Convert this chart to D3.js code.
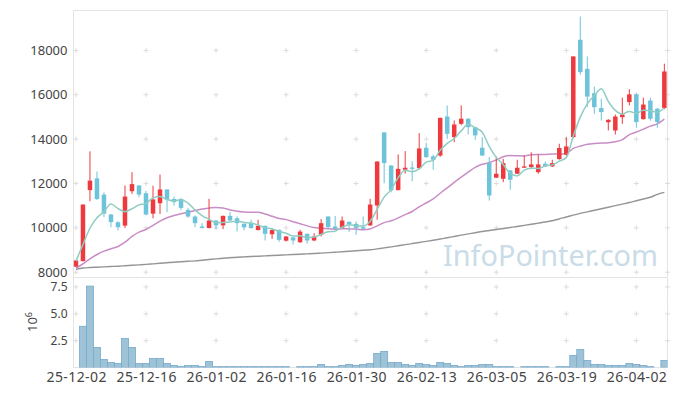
<!DOCTYPE html>
<html>
<head>
<meta charset="utf-8">
<script src="https://cdn.jsdelivr.net/npm/d3@7"></script>
<style>
  body { margin: 0; background: #fff; }
  text { font-family: "Noto Sans", sans-serif; }
</style>
</head>
<body>
<svg id="chart" width="677" height="396"></svg>
<script>
// Daily candles 25-12-02 .. 26-04-08 with MA5 / MA20 / long MA and volume (x10^6)
const dates = [
  "25-12-02","25-12-03","25-12-04","25-12-05","25-12-08","25-12-09","25-12-10","25-12-11","25-12-12","25-12-15",
  "25-12-16","25-12-17","25-12-18","25-12-19","25-12-22","25-12-23","25-12-24","25-12-26","25-12-29","25-12-30",
  "26-01-02","26-01-05","26-01-06","26-01-07","26-01-08","26-01-09","26-01-12","26-01-13","26-01-14","26-01-15",
  "26-01-16","26-01-19","26-01-20","26-01-21","26-01-22","26-01-23","26-01-26","26-01-27","26-01-28","26-01-29",
  "26-01-30","26-02-02","26-02-03","26-02-04","26-02-05","26-02-06","26-02-09","26-02-10","26-02-11","26-02-12",
  "26-02-13","26-02-19","26-02-20","26-02-23","26-02-24","26-02-25","26-02-26","26-02-27","26-03-03","26-03-04",
  "26-03-05","26-03-06","26-03-09","26-03-10","26-03-11","26-03-12","26-03-13","26-03-16","26-03-17","26-03-18",
  "26-03-19","26-03-20","26-03-23","26-03-24","26-03-25","26-03-26","26-03-27","26-03-30","26-03-31","26-04-01",
  "26-04-02","26-04-03","26-04-06","26-04-07","26-04-08"
];

const opens = [
  8250, 8500, 11700, 12230, 11500, 10600, 10250, 10100, 11650, 11910,
  11560, 10640, 11110, 11730, 11300, 11300, 10810, 10510, 10060, 9990,
  10330, 10110, 10540, 10430, 10180, 10210, 9900, 10090, 9710, 9910,
  9420, 9570, 9350, 9730, 9430, 9690, 10510, 10060, 10000, 10270,
  10180, 10030, 10110, 11010, 14300, 12810, 11700, 12620, 12720, 12690,
  13610, 13220, 13260, 15020, 14090, 14690, 14920, 14540, 13610, 12920,
  12260, 12210, 12590, 12440, 12710, 12740, 12510, 12890, 12770, 13100,
  13300, 14090, 18480, 17170, 16070, 15400, 14760, 14390, 14990, 15670,
  16020, 14900, 15740, 15370, 15400
];
const highs = [
  8550, 11050, 13450, 12540, 11600, 10620, 10300, 11910, 12510, 11930,
  11660, 11900, 12400, 11740, 11400, 11350, 10890, 10560, 10210, 11310,
  10340, 10550, 10720, 10520, 10190, 10360, 10360, 10100, 9990, 9920,
  9620, 9580, 9910, 9750, 9760, 10400, 10520, 10540, 10510, 10290,
  10290, 10510, 11310, 13000, 14320, 12820, 13310, 13460, 13000, 14270,
  13830, 13300, 14960, 15520, 14840, 15520, 14940, 14560, 14090, 13190,
  13220, 13110, 12600, 13070, 13260, 13410, 13310, 12990, 13070, 13790,
  14090, 17730, 19530, 17730, 16370, 15820, 14900, 15110, 15870, 16250,
  16070, 15870, 15870, 15400, 17400
];
const lows = [
  8230, 8480, 11200, 11250, 10480, 10030, 9880, 9990, 11530, 11380,
  10560, 10430, 10620, 10700, 11000, 10810, 10450, 10030, 9980, 9980,
  9940, 9940, 10300, 9840, 9880, 9960, 9880, 9430, 9500, 9370,
  9380, 9250, 9320, 9280, 9400, 9610, 10000, 9940, 9990, 9820,
  9690, 9950, 10090, 10360, 12010, 11600, 11690, 12440, 12100, 12650,
  13150, 12620, 13200, 14010, 13860, 14630, 14210, 13970, 13240, 11230,
  12240, 12060, 11720, 12420, 12700, 12700, 12440, 12740, 12740, 13070,
  13250, 14050, 16900, 15440, 15140, 14840, 14390, 14210, 14690, 15520,
  14510, 14880, 14830, 14510, 15350
];
const closes = [
  8530, 11050, 12130, 11300, 10640, 10260, 10030, 11410, 11970, 11500,
  10600, 11280, 11730, 11280, 11160, 10900, 10510, 10210, 9990, 10330,
  10110, 10540, 10330, 10210, 10020, 9990, 10090, 9730, 9900, 9460,
  9610, 9430, 9830, 9430, 9610, 10210, 10030, 9960, 10330, 10150,
  10000, 9960, 11050, 12990, 12920, 11690, 12660, 12710, 12660, 13580,
  13190, 13070, 14960, 14240, 14660, 14920, 14540, 14170, 13260, 11460,
  12440, 12920, 12170, 12710, 12770, 12860, 12860, 12770, 12920, 13600,
  13670, 17730, 17020, 15920, 15440, 15220, 14870, 15020, 15110, 16020,
  14770, 15560, 14920, 14770, 17050
];

const ma5 = [
  8500, 9250, 9980, 10450, 10730, 11076, 10872, 10728, 10862, 11034,
  11102, 11352, 11416, 11278, 11210, 11270, 11116, 10812, 10554, 10388,
  10230, 10236, 10260, 10304, 10242, 10218, 10128, 10008, 9946, 9834,
  9758, 9626, 9646, 9552, 9582, 9702, 9822, 9848, 10028, 10138,
  10096, 10082, 10300, 10832, 11386, 11724, 12264, 12596, 12530, 12662,
  12962, 13044, 13494, 13810, 14026, 14372, 14666, 14508, 14312, 13672,
  13176, 12852, 12452, 12342, 12604, 12688, 12676, 12796, 12838, 13004,
  13166, 14140, 14990, 15590, 15958, 16268, 15696, 15296, 15134, 15250,
  15160, 15298, 15278, 15210, 15416
];
const ma20 = [
  8180, 8378, 8604, 8798, 8947, 9055, 9160, 9353, 9610, 9804,
  9926, 10106, 10300, 10453, 10557, 10634, 10706, 10782, 10850, 10890,
  10920, 10894, 10804, 10750, 10719, 10705, 10708, 10624, 10521, 10419,
  10369, 10277, 10182, 10089, 10012, 9977, 9953, 9941, 9958, 9949,
  9943, 9914, 9950, 10089, 10234, 10319, 10448, 10597, 10735, 10941,
  11120, 11302, 11558, 11799, 12051, 12287, 12512, 12723, 12869, 12935,
  13057, 13205, 13261, 13247, 13239, 13298, 13308, 13311, 13324, 13325,
  13349, 13582, 13685, 13769, 13808, 13823, 13839, 13882, 13974, 14202,
  14319, 14451, 14588, 14691, 14905
];
const maLong = [
  8130, 8190, 8210, 8225, 8240, 8255, 8270, 8290, 8310, 8330,
  8350, 8375, 8400, 8425, 8450, 8470, 8490, 8510, 8540, 8570,
  8600, 8625, 8650, 8675, 8690, 8705, 8720, 8735, 8750, 8765,
  8780, 8795, 8810, 8825, 8840, 8860, 8880, 8900, 8920, 8945,
  8965, 8990, 9010, 9050, 9095, 9140, 9190, 9240, 9290, 9340,
  9390, 9440, 9495, 9550, 9610, 9670, 9725, 9780, 9835, 9880,
  9925, 9970, 10015, 10060, 10110, 10160, 10210, 10260, 10320, 10400,
  10490, 10570, 10650, 10720, 10790, 10860, 10930, 11000, 11070, 11140,
  11220, 11300, 11380, 11510, 11600
];

const volumes = [
  0, 3.84, 7.58, 1.87, 0.75, 0.47, 0.37, 2.71, 1.87, 0.37,
  0.37, 0.84, 0.84, 0.37, 0.19, 0.09, 0.19, 0.19, 0.09, 0.56,
  0.08, 0.08, 0.08, 0.08, 0.08, 0.08, 0.08, 0.08, 0.08, 0.08,
  0.08, 0, 0.08, 0.08, 0.08, 0.28, 0.08, 0.08, 0.19, 0.28,
  0.19, 0.28, 0.37, 1.31, 1.50, 0.47, 0.47, 0.28, 0.19, 0.37,
  0.28, 0.19, 0.47, 0.37, 0.19, 0.08, 0.19, 0.19, 0.28, 0.28,
  0.08, 0.08, 0.08, 0, 0.08, 0.08, 0.08, 0.08, 0, 0.08,
  0.08, 1.12, 1.68, 0.66, 0.28, 0.28, 0.19, 0.19, 0.19, 0.37,
  0.28, 0.19, 0.08, 0, 0.66
];

const priceTicks = [8000, 10000, 12000, 14000, 16000, 18000];
const volumeTicks = [2.5, 5.0, 7.5];
const dateTicks = [0, 10, 20, 30, 40, 50, 60, 70, 80];

const svg = d3.select("#chart");
const plotLeft = 73.5, plotRight = 667.5, plotTop = 10.5, plotSplit = 277.5, plotBottom = 367.5;

const idx = d3.range(dates.length);
const x = d3.scaleLinear().domain([-0.35, 84.45]).range([plotLeft, plotRight]);
const y = d3.scaleLinear().domain([7760, 19800]).range([plotSplit, plotTop]);
const yv = d3.scaleLinear().domain([0, 8.38]).range([plotBottom, plotSplit]);

const defs = svg.append("defs");
defs.append("clipPath").attr("id", "clip-price")
  .append("rect").attr("x", plotLeft).attr("y", plotTop)
  .attr("width", plotRight - plotLeft).attr("height", plotSplit - plotTop);
defs.append("clipPath").attr("id", "clip-vol")
  .append("rect").attr("x", plotLeft).attr("y", plotSplit)
  .attr("width", plotRight - plotLeft).attr("height", plotBottom - plotSplit);

// frame
svg.append("rect")
  .attr("x", plotLeft).attr("y", plotTop)
  .attr("width", plotRight - plotLeft).attr("height", plotBottom - plotTop)
  .attr("fill", "none").attr("stroke", "#e4e4e4");
svg.append("line")
  .attr("x1", plotLeft).attr("x2", plotRight).attr("y1", plotSplit).attr("y2", plotSplit)
  .attr("stroke", "#e4e4e4");

// grid crosses
function crosses(g, xs, ys) {
  const pts = [];
  xs.forEach(a => ys.forEach(b => pts.push([a, b])));
  g.selectAll(null).data(pts).enter().append("path")
    .attr("d", d => `M${d[0] - 2.5},${d[1]}h5M${d[0]},${d[1] - 2.5}v5`)
    .attr("stroke", "#dcdcdc").attr("stroke-width", 1);
}
const gridXs = dateTicks.map(x).concat([plotRight]);
crosses(svg.append("g"), gridXs, priceTicks.map(y));
crosses(svg.append("g"), gridXs, volumeTicks.map(yv));

// watermark
svg.append("text")
  .attr("x", 443).attr("y", 266)
  .attr("font-size", 29)
  .attr("textLength", 215)
  .attr("lengthAdjust", "spacingAndGlyphs")
  .attr("fill", "#c9dce8")
  .text("InfoPointer.com");

// price pane
const price = svg.append("g").attr("clip-path", "url(#clip-price)");

const line = arr => d3.line()
  .x(i => x(i))
  .y(i => y(arr[i]))
  .curve(d3.curveMonotoneX)(idx);

price.append("path").attr("d", line(maLong))
  .attr("fill", "none").attr("stroke", "#959595").attr("stroke-width", 1.4);
price.append("path").attr("d", line(ma20))
  .attr("fill", "none").attr("stroke", "#c98dc5").attr("stroke-width", 1.5);

const up = "#ee3a3f", down = "#6cc3da";
const candle = price.selectAll(".candle").data(idx).enter().append("g").attr("class", "candle");
candle.append("line")
  .attr("x1", i => x(i)).attr("x2", i => x(i))
  .attr("y1", i => y(highs[i])).attr("y2", i => y(lows[i]))
  .attr("stroke", i => closes[i] >= opens[i] ? up : down)
  .attr("stroke-width", 1);
candle.append("rect")
  .attr("x", i => x(i) - 2.25)
  .attr("width", 4.5)
  .attr("y", i => y(Math.max(opens[i], closes[i])))
  .attr("height", i => Math.max(1, Math.abs(y(opens[i]) - y(closes[i]))))
  .attr("fill", i => closes[i] >= opens[i] ? up : down);

price.append("path").attr("d", line(ma5))
  .attr("fill", "none").attr("stroke", "#8fcdc3").attr("stroke-width", 1.5);

// volume pane
svg.append("g").attr("clip-path", "url(#clip-vol)")
  .selectAll("rect").data(idx).enter().append("rect")
  .attr("x", i => x(i) - 3.5)
  .attr("width", 7)
  .attr("y", i => yv(volumes[i]))
  .attr("height", i => yv(0) - yv(volumes[i]))
  .attr("fill", "#9fc3d6")
  .attr("stroke", "#77aacd")
  .attr("stroke-width", i => volumes[i] > 0 ? 0.8 : 0);

// axes
function styleAxis(g) {
  g.select(".domain").remove();
  g.selectAll("text").attr("fill", "#444").attr("font-family", "'Noto Sans', sans-serif");
}
svg.append("g")
  .attr("transform", `translate(${plotLeft},0)`)
  .call(d3.axisLeft(y).tickValues(priceTicks).tickSize(0).tickPadding(6).tickFormat(d3.format("d")))
  .call(styleAxis)
  .selectAll("text").attr("font-size", 13);
svg.append("g")
  .attr("transform", `translate(${plotLeft},0)`)
  .call(d3.axisLeft(yv).tickValues(volumeTicks).tickSize(0).tickPadding(6).tickFormat(d3.format(".1f")))
  .call(styleAxis)
  .selectAll("text").attr("font-size", 12);
svg.append("g")
  .attr("transform", `translate(0,${plotBottom})`)
  .call(d3.axisBottom(x).tickValues(dateTicks).tickSize(0).tickPadding(5).tickFormat(i => dates[i]))
  .call(styleAxis)
  .selectAll("text").attr("font-size", 14)
  .attr("textLength", 60).attr("lengthAdjust", "spacing");

// volume unit label
const unit = svg.append("text")
  .attr("transform", "translate(37,322) rotate(-90)")
  .attr("text-anchor", "middle")
  .attr("font-size", 13)
  .attr("fill", "#444");
unit.append("tspan").text("10");
unit.append("tspan").attr("dy", -5).attr("font-size", 9).text("6");
</script>
</body>
</html>
